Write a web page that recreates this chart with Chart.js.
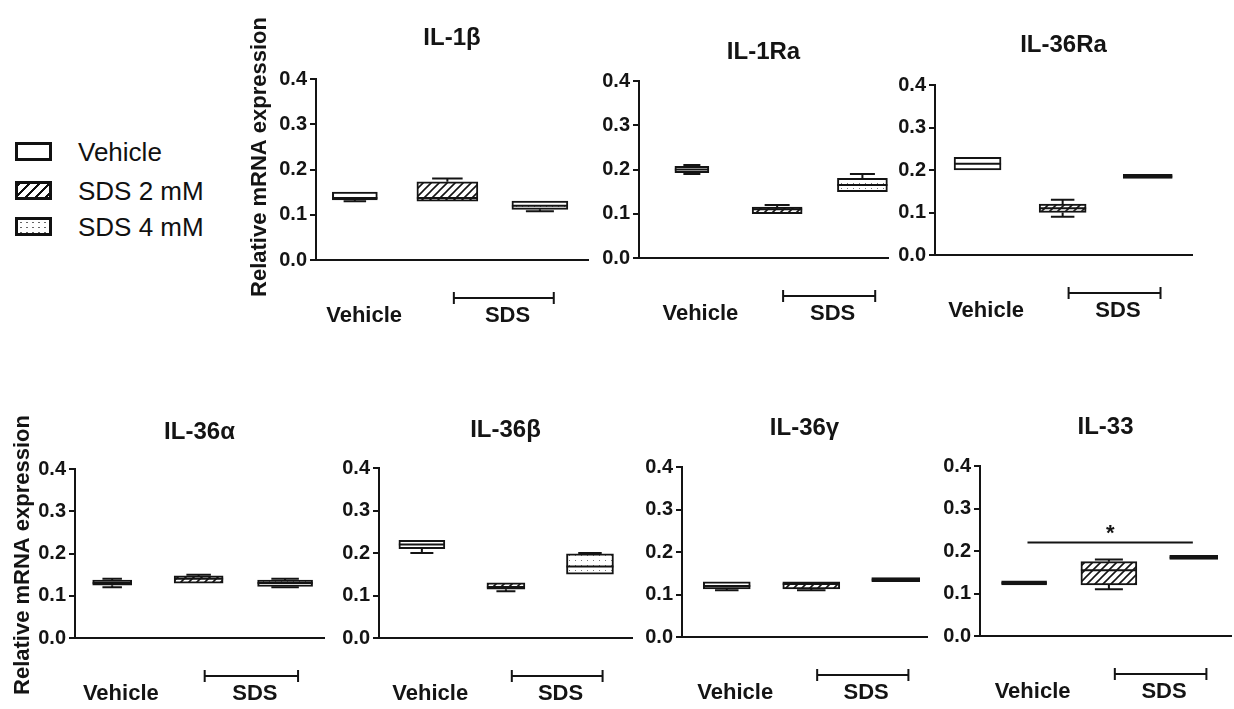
<!DOCTYPE html>
<html>
<head>
<meta charset="utf-8">
<script src="https://cdn.jsdelivr.net/npm/chart.js@4.4.1/dist/chart.umd.min.js"></script>
<style>
  body { margin: 0; background: #fff; width: 1234px; height: 709px; overflow: hidden; position: relative;
         font-family: "Liberation Sans", Arial, sans-serif; }
  canvas { position: absolute; }
  .lg-row { position: absolute; left: 15px; height: 20px; }
  .lg-box { position: absolute; left: 0; top: 0; width: 31px; height: 13px; border: 3.5px solid #111; background: #fff; }
  .lg-text { position: absolute; left: 63px; top: -5px; font-size: 26px; color: #111; white-space: nowrap; line-height: 30px; }
  .hatch { background: repeating-linear-gradient(135deg, #111 0 2px, #fff 2px 7px); }
  .dots { background-color: #fff; background-image: radial-gradient(#666 0.9px, transparent 1.1px); background-size: 6px 5px; }
</style>
</head>
<body>
<script>
// groups and panels
const groups = ['Vehicle', 'SDS 2 mM', 'SDS 4 mM'];
const titles = ['IL-1β', 'IL-1Ra', 'IL-36Ra', 'IL-36α', 'IL-36β', 'IL-36γ', 'IL-33'];
const yTicks = [0.0, 0.1, 0.2, 0.3, 0.4];
const xLabels = ['Vehicle', 'SDS'];

// box stats per group: [min, q1, median, q3, max]
const il1b   = [[0.13, 0.133, 0.137, 0.15, 0.15], [0.13, 0.13, 0.137, 0.173, 0.18], [0.108, 0.112, 0.12, 0.13, 0.13]];
const il1ra  = [[0.19, 0.193, 0.2, 0.207, 0.21], [0.10, 0.10, 0.11, 0.115, 0.12], [0.15, 0.15, 0.165, 0.18, 0.19]];
const il36ra = [[0.20, 0.20, 0.215, 0.23, 0.23], [0.09, 0.10, 0.11, 0.12, 0.13], [0.18, 0.18, 0.185, 0.19, 0.19]];
const il36a  = [[0.12, 0.125, 0.13, 0.137, 0.14], [0.13, 0.13, 0.14, 0.147, 0.15], [0.12, 0.122, 0.13, 0.137, 0.14]];
const il36b  = [[0.20, 0.21, 0.22, 0.23, 0.23], [0.11, 0.115, 0.12, 0.13, 0.13], [0.15, 0.15, 0.168, 0.198, 0.20]];
const il36g  = [[0.11, 0.113, 0.12, 0.13, 0.13], [0.11, 0.113, 0.125, 0.13, 0.13], [0.13, 0.13, 0.135, 0.14, 0.14]];
const il33   = [[0.12, 0.12, 0.125, 0.13, 0.13], [0.11, 0.12, 0.155, 0.175, 0.18], [0.18, 0.18, 0.185, 0.19, 0.19]];
const panelStats = [il1b, il1ra, il36ra, il36a, il36b, il36g, il33];

// significance: [panel, fromX, toX, y, label]
const sigMarks = [[6, 0.04, 1.99, 0.22, '*']];

// panel placement (pixels on the page)
const layout = [
  { a0: 316, a1: 588,  top: 79,  bottom: 260, xr: [-0.42, 2.52], bw: [45, 61, 56], titleDy: -41, yTitle: { dx: -56, cy: 157 } },
  { a0: 639, a1: 888,  top: 81,  bottom: 258, xr: [-0.62, 2.30], bw: [34, 50, 50], titleDy: -29 },
  { a0: 935, a1: 1192, top: 85,  bottom: 255, xr: [-0.50, 2.52], bw: [47, 47, 49], titleDy: -40 },
  { a0: 75,  a1: 324,  top: 469, bottom: 638, xr: [-0.43, 2.45], bw: [39, 49, 55], titleDy: -37, yTitle: { dx: -52, cy: 555 } },
  { a0: 379, a1: 632,  top: 468, bottom: 638, xr: [-0.51, 2.50], bw: [46, 38, 47], titleDy: -38 },
  { a0: 682, a1: 927,  top: 467, bottom: 637, xr: [-0.53, 2.37], bw: [47, 57, 48], titleDy: -39 },
  { a0: 980, a1: 1231, top: 466, bottom: 636, xr: [-0.52, 2.44], bw: [45, 56, 48], titleDy: -39 }
];

const INK = '#141414';
const FONT = '"Liberation Sans", Arial, sans-serif';
const YW = 45, PAD_T = 80, XH = 72, PAD_R = 3;

// legend
groups.forEach((g, i) => {
  const row = document.createElement('div');
  row.className = 'lg-row';
  row.style.top = [142, 181, 217][i] + 'px';
  row.innerHTML = '<div class="lg-box ' + ['', 'hatch', 'dots'][i] + '"></div><div class="lg-text">' + g + '</div>';
  document.body.appendChild(row);
});

function makePattern(kind) {
  const c = document.createElement('canvas');
  const p = c.getContext('2d');
  if (kind === 'hatch') {
    c.width = 8; c.height = 8;
    p.fillStyle = '#fff'; p.fillRect(0, 0, 8, 8);
    p.strokeStyle = INK; p.lineWidth = 1.6;
    p.beginPath();
    p.moveTo(0, 8); p.lineTo(8, 0);
    p.moveTo(-2, 2); p.lineTo(2, -2);
    p.moveTo(6, 10); p.lineTo(10, 6);
    p.stroke();
  } else {
    c.width = 6; c.height = 5;
    p.fillStyle = '#fff'; p.fillRect(0, 0, 6, 5);
    p.fillStyle = '#777'; p.fillRect(3, 2, 1, 1);
  }
  return p.createPattern(c, 'repeat');
}
const fills = ['#fff', makePattern('hatch'), makePattern('dots')];

const boxPlugin = {
  id: 'boxDecor',
  afterDatasetsDraw(chart) {
    const { ctx, scales: { y } } = chart;
    const stats = chart.$stats;
    ctx.save();
    ctx.strokeStyle = INK;
    ctx.lineWidth = 2;
    stats.forEach((s, i) => {
      const bar = chart.getDatasetMeta(i).data[0];
      const cx = bar.x, w = bar.width;
      ctx.beginPath();
      if (s[4] > s[3]) {
        ctx.moveTo(cx, y.getPixelForValue(s[3])); ctx.lineTo(cx, y.getPixelForValue(s[4]));
        ctx.moveTo(cx - w / 4, y.getPixelForValue(s[4])); ctx.lineTo(cx + w / 4, y.getPixelForValue(s[4]));
      }
      if (s[0] < s[1]) {
        ctx.moveTo(cx, y.getPixelForValue(s[1])); ctx.lineTo(cx, y.getPixelForValue(s[0]));
        ctx.moveTo(cx - w / 4, y.getPixelForValue(s[0])); ctx.lineTo(cx + w / 4, y.getPixelForValue(s[0]));
      }
      ctx.moveTo(cx - w / 2, y.getPixelForValue(s[2])); ctx.lineTo(cx + w / 2, y.getPixelForValue(s[2]));
      ctx.stroke();
    });
    ctx.restore();
  },
  afterDraw(chart) {
    const { ctx, chartArea: ca, scales: { x } } = chart;
    const L = chart.$layout;
    ctx.save();
    ctx.fillStyle = INK;
    ctx.strokeStyle = INK;
    ctx.textAlign = 'center';
    ctx.textBaseline = 'middle';
    // title
    ctx.font = 'bold 24px ' + FONT;
    ctx.fillText(chart.$title, (ca.left + ca.right) / 2, ca.top + L.titleDy);
    // y title
    if (L.yTitle) {
      ctx.font = 'bold 22px ' + FONT;
      ctx.save();
      ctx.translate(ca.left + L.yTitle.dx, L.yTitle.cy - L.top + ca.top);
      ctx.rotate(-Math.PI / 2);
      ctx.fillText('Relative mRNA expression', 0, 0);
      ctx.restore();
    }
    // group labels and SDS bracket
    ctx.font = 'bold 22px ' + FONT;
    ctx.fillText(xLabels[0], x.getPixelForValue(0.1), ca.bottom + 56);
    ctx.fillText(xLabels[1], x.getPixelForValue(1.65), ca.bottom + 56);
    const b0 = x.getPixelForValue(1.07), b1 = x.getPixelForValue(2.15), by = ca.bottom + 38;
    ctx.lineWidth = 2;
    ctx.beginPath();
    ctx.moveTo(b0, by); ctx.lineTo(b1, by);
    ctx.moveTo(b0, by - 6); ctx.lineTo(b0, by + 6);
    ctx.moveTo(b1, by - 6); ctx.lineTo(b1, by + 6);
    ctx.stroke();
    // significance
    sigMarks.filter(m => m[0] === chart.$index).forEach(m => {
      const yy = chart.scales.y.getPixelForValue(m[3]);
      ctx.beginPath();
      ctx.moveTo(x.getPixelForValue(m[1]), yy); ctx.lineTo(x.getPixelForValue(m[2]), yy);
      ctx.stroke();
      ctx.font = 'bold 22px ' + FONT;
      ctx.fillText(m[4], x.getPixelForValue((m[1] + m[2]) / 2), yy - 9);
    });
    ctx.restore();
  }
};

layout.forEach((L, p) => {
  const padL = L.yTitle ? 40 : 2;
  const cv = document.createElement('canvas');
  const w = padL + YW + (L.a1 - L.a0) + PAD_R;
  const h = PAD_T + (L.bottom - L.top) + XH;
  cv.width = w; cv.height = h;
  cv.style.left = (L.a0 - YW - padL) + 'px';
  cv.style.top = (L.top - PAD_T) + 'px';
  document.body.appendChild(cv);

  const stats = panelStats[p];
  new Chart(cv.getContext('2d'), {
    type: 'bar',
    data: {
      datasets: groups.map((g, i) => ({
        label: g,
        data: [{ x: i, y: [stats[i][1], stats[i][3]] }],
        backgroundColor: fills[i],
        borderColor: INK,
        borderWidth: 2,
        borderSkipped: false,
        barThickness: L.bw[i],
        grouped: false
      }))
    },
    options: {
      responsive: false,
      animation: false,
      devicePixelRatio: 1,
      layout: { padding: { left: padL, top: PAD_T, right: PAD_R, bottom: 0 } },
      plugins: { legend: { display: false }, tooltip: { enabled: false } },
      scales: {
        x: {
          type: 'linear',
          offset: false,
          min: L.xr[0], max: L.xr[1],
          ticks: { display: false },
          grid: { display: false },
          border: { display: true, color: INK, width: 2 },
          afterFit: s => { s.height = XH; }
        },
        y: {
          min: 0, max: 0.4,
          afterBuildTicks: s => { s.ticks = yTicks.map(v => ({ value: v })); },
          ticks: { callback: v => v.toFixed(1), color: INK, padding: 3, font: { family: FONT, size: 20, weight: 'bold' } },
          grid: { drawOnChartArea: false, drawTicks: true, tickLength: 6, color: INK, lineWidth: 2 },
          border: { display: true, color: INK, width: 2 },
          afterFit: s => { s.width = YW; }
        }
      }
    },
    plugins: [{
      id: 'meta',
      beforeInit(c) { c.$stats = stats; c.$layout = L; c.$title = titles[p]; c.$index = p; }
    }, boxPlugin]
  });
});
</script>
</body>
</html>
